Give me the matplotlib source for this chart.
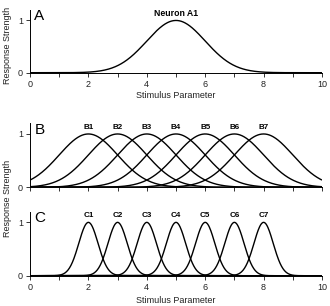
import numpy as np
import matplotlib
matplotlib.use("Agg")
import matplotlib.pyplot as plt

plt.rcParams['font.family'] = ['Liberation Sans', 'DejaVu Sans']

# ---- data (tuning-curve parameters) ----
a_names = ["Neuron A1"]
a_centers = [5.0]
a_widths = [1.0]

b_names = ["B1", "B2", "B3", "B4", "B5", "B6", "B7"]
b_centers = [2, 3, 4, 5, 6, 7, 8]
b_widths = [1.0, 1.0, 1.0, 1.0, 1.0, 1.0, 1.0]

c_names = ["C1", "C2", "C3", "C4", "C5", "C6", "C7"]
c_centers = [2, 3, 4, 5, 6, 7, 8]
c_widths = [0.33, 0.33, 0.33, 0.33, 0.33, 0.33, 0.33]

peak_response = 1.0
panel_letters = ["A", "B", "C"]
y_tick_labels = ["0", "1"]

W, H = 330, 306
fig = plt.figure(figsize=(W / 100, H / 100), dpi=100)

left = 30 / W
width = 292 / W
rects = [
    (left, 1 - 72.7 / H, width, 62.7 / H),
    (left, 1 - 187.3 / H, width, 64 / H),
    (left, 1 - 275.7 / H, width, 64 / H),
]

stim = np.linspace(0, 10, 600)
panels = [(a_names, a_centers, a_widths),
          (b_names, b_centers, b_widths),
          (c_names, c_centers, c_widths)]
name_sizes = [6.3, 5.8, 5.8]
xlabel_pads = [2, 3]

axes = []
for i, (rect, (names, centers, widths)) in enumerate(zip(rects, panels)):
    ax = fig.add_axes(rect)
    axes.append(ax)
    for name, c, w in zip(names, centers, widths):
        resp = peak_response * np.exp(-(stim - c) ** 2 / (2 * w ** 2))
        ax.plot(stim, resp, color='black', lw=1.0, solid_capstyle='butt')
        ax.text(c, 1.13, name, ha='center', va='center', fontsize=name_sizes[i],
                fontweight='bold')
    ax.set_xlim(0, 10)
    ax.set_ylim(0, 1.2)
    ax.spines['top'].set_visible(False)
    ax.spines['right'].set_visible(False)
    for s in ['left', 'bottom']:
        ax.spines[s].set_linewidth(0.7)
    ax.set_xticks(range(0, 11))
    ax.set_yticks([0, 1])
    ax.set_yticklabels(y_tick_labels, fontsize=6.5, color='#222222')
    if i == 1:
        ax.set_xticklabels([])
    else:
        ax.set_xticklabels([str(v) if v % 2 == 0 else "" for v in range(11)],
                           fontsize=6.5, color='#222222')
        ax.set_xlabel("Stimulus Parameter", fontsize=6.5, color='#222222',
                      labelpad=xlabel_pads[0 if i == 0 else 1])
    ax.tick_params(direction='out', length=3, width=0.7, pad=2, color='#333333')
    ax.text(0.15, 1.21, panel_letters[i], ha='left', va='top', fontsize=11)
    ax.patch.set_visible(False)

fig.text(8 / W, 1 - 45 / H, "Response Strength", rotation=90, fontsize=6.5,
         ha='center', va='center', color='#222222')
fig.text(8 / W, 1 - 198 / H, "Response Strength", rotation=90, fontsize=6.5,
         ha='center', va='center', color='#222222')

fig.savefig("out.png", dpi=100)
